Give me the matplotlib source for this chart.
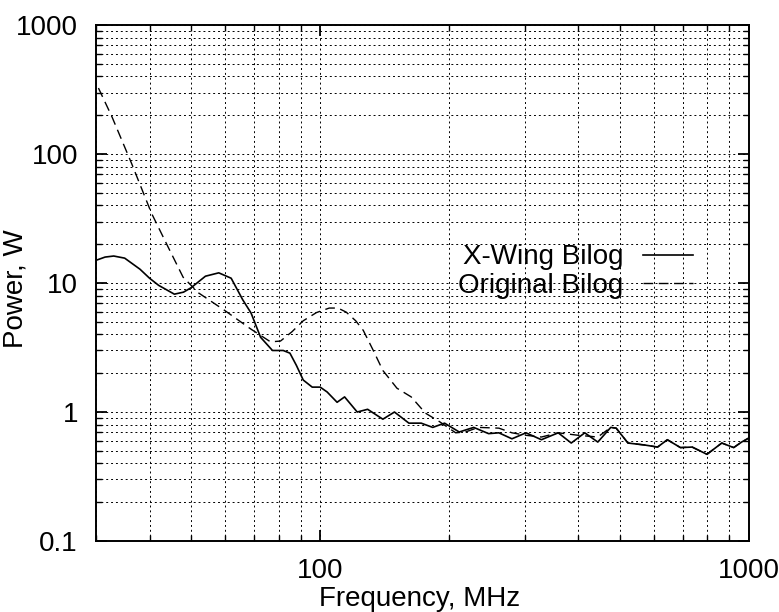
import numpy as np
import matplotlib.pyplot as plt
from matplotlib.ticker import LogLocator, NullFormatter, FixedLocator, FixedFormatter

plt.rcParams['font.family'] = ['Liberation Sans', 'DejaVu Sans']

# X-Wing Bilog (solid)
xw_f = [30, 31.5, 33, 35, 38, 40, 42, 45.7, 48, 50, 54, 58, 62, 66, 69, 72.6, 77.4, 82, 85, 88,
        91.3, 95.8, 100, 103.8, 109.5, 114, 122, 129, 140, 149, 161, 172, 183, 195, 211, 228, 247,
        261, 280, 302, 328, 359, 385, 414, 444, 476, 490, 522, 571, 612, 645, 692, 737, 798, 864,
        921, 961, 1000]
xw_p = [15.0, 15.9, 16.2, 15.6, 12.8, 10.9, 9.6, 8.2, 8.5, 9.2, 11.3, 12.0, 10.9, 7.4, 5.85,
        3.8, 3.0, 3.0, 2.86, 2.3, 1.77, 1.56, 1.56, 1.43, 1.19, 1.31, 1.0, 1.05, 0.88, 1.0, 0.82,
        0.82, 0.76, 0.82, 0.70, 0.76, 0.68, 0.69, 0.62, 0.69, 0.61, 0.69, 0.575, 0.69, 0.585,
        0.76, 0.75, 0.575, 0.555, 0.535, 0.61, 0.53, 0.535, 0.47, 0.575, 0.53, 0.585, 0.63]

# Original Bilog (dashed)
og_f = [30.4, 32.7, 36.3, 40.4, 44.2, 47.9, 52, 59.6, 68.9, 76.6, 80.8, 86, 91.3, 98, 105, 110,
        115, 121, 126, 133, 140, 151, 163, 176, 190, 207, 218, 234, 261, 280, 302, 328, 359, 400,
        444, 476, 490, 522, 571, 612, 645, 692, 737, 798, 864, 921, 961, 1000]
og_p = [325, 194, 85, 34.9, 19.0, 11.1, 8.4, 6.2, 4.4, 3.5, 3.55, 4.2, 5.1, 5.9, 6.4, 6.4, 5.95,
        5.1, 4.3, 3.0, 2.1, 1.53, 1.31, 0.98, 0.84, 0.69, 0.70, 0.76, 0.75, 0.69, 0.66, 0.64,
        0.69, 0.66, 0.64, 0.76, 0.75, 0.575, 0.555, 0.535, 0.61, 0.53, 0.535, 0.47, 0.575, 0.53,
        0.585, 0.63]

fig = plt.figure(figsize=(7.79, 6.12), dpi=100)
ax = fig.add_axes([0.1232, 0.116, 0.8383, 0.843])

ax.plot(xw_f, xw_p, color='black', lw=1.2, label='X-Wing Bilog')
ax.plot(og_f, og_p, color='black', lw=1.0, ls=(0, (7, 4)), label='Original Bilog')

ax.set_xscale('log')
ax.set_yscale('log')
ax.set_xlim(30, 1000)
ax.set_ylim(0.1, 1000)

ax.xaxis.set_major_locator(FixedLocator([100, 1000]))
ax.xaxis.set_major_formatter(FixedFormatter(['100', '1000']))
ax.xaxis.set_minor_locator(LogLocator(base=10, subs=np.arange(2, 10)))
ax.xaxis.set_minor_formatter(NullFormatter())
ax.yaxis.set_major_locator(FixedLocator([0.1, 1, 10, 100, 1000]))
ax.yaxis.set_major_formatter(FixedFormatter(['0.1', '1', '10', '100', '1000']))
ax.yaxis.set_minor_locator(LogLocator(base=10, subs=np.arange(2, 10)))
ax.yaxis.set_minor_formatter(NullFormatter())

ax.tick_params(which='both', direction='in', top=True, right=True, colors='black')
ax.tick_params(which='major', length=8, width=1.3, labelsize=20)
ax.tick_params(which='minor', length=4, width=1.0)
ax.tick_params(axis='x', which='major', pad=12)
ax.tick_params(axis='y', which='major', pad=13)

ax.grid(which='both', color='black', ls=(0, (2, 3)), lw=0.7)

for s in ax.spines.values():
    s.set_linewidth(1.4)

ax.set_xlabel('Frequency, MHz', fontsize=20)
ax.set_ylabel('Power, W', fontsize=20)
ax.xaxis.set_label_coords(0.496, -0.088)
ax.yaxis.set_label_coords(-0.103, 0.49)

ax.legend(loc='upper right', bbox_to_anchor=(0.914, 0.575), frameon=False, fontsize=20,
          markerfirst=False, handlelength=1.8, handletextpad=0.7, labelspacing=0.1,
          borderpad=0, borderaxespad=0)

fig.savefig('out.png', dpi=100)
